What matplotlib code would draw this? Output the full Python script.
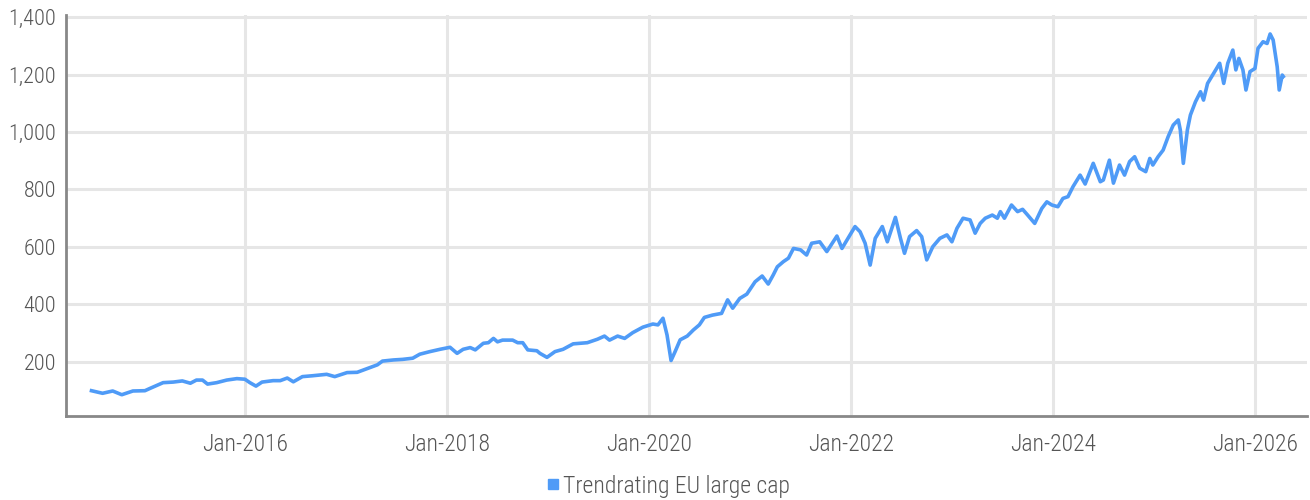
import numpy as np
import pandas as pd
import matplotlib
matplotlib.use("Agg")
import matplotlib.pyplot as plt
import matplotlib.dates as mdates
from matplotlib.ticker import FuncFormatter
from matplotlib.lines import Line2D

# values (decimal year, index level)
years = [
    2014.48, 2014.59, 2014.69, 2014.78, 2014.89, 2015.01, 2015.06, 2015.19, 2015.29, 2015.38,
    2015.46, 2015.52, 2015.58, 2015.63, 2015.72, 2015.82, 2015.92, 2016.00, 2016.05, 2016.11,
    2016.17, 2016.28, 2016.35, 2016.42, 2016.48, 2016.57, 2016.67, 2016.81, 2016.89, 2017.01,
    2017.11, 2017.21, 2017.31, 2017.36, 2017.47, 2017.56, 2017.66, 2017.73, 2017.83, 2017.93,
    2018.03, 2018.10, 2018.16, 2018.23, 2018.28, 2018.36, 2018.41, 2018.46, 2018.50, 2018.55,
    2018.65, 2018.70, 2018.75, 2018.80, 2018.89, 2018.92, 2018.99, 2019.07, 2019.15, 2019.25,
    2019.39, 2019.49, 2019.56, 2019.61, 2019.69, 2019.76, 2019.84, 2019.94, 2020.04, 2020.09,
    2020.14, 2020.18, 2020.22, 2020.26, 2020.31, 2020.38, 2020.44, 2020.50, 2020.55, 2020.63,
    2020.72, 2020.78, 2020.83, 2020.90, 2020.97, 2021.05, 2021.12, 2021.18, 2021.23, 2021.27,
    2021.33, 2021.38, 2021.43, 2021.50, 2021.56, 2021.61, 2021.69, 2021.76, 2021.86, 2021.91,
    2021.97, 2022.04, 2022.09, 2022.14, 2022.19, 2022.24, 2022.31, 2022.36, 2022.44, 2022.49,
    2022.53, 2022.58, 2022.65, 2022.70, 2022.75, 2022.81, 2022.88, 2022.95, 2023.00, 2023.05,
    2023.11, 2023.18, 2023.23, 2023.28, 2023.33, 2023.40, 2023.45, 2023.48, 2023.52, 2023.59,
    2023.65, 2023.70, 2023.75, 2023.82, 2023.89, 2023.94, 2023.99, 2024.05, 2024.10, 2024.15,
    2024.20, 2024.27, 2024.32, 2024.40, 2024.47, 2024.50, 2024.56, 2024.60, 2024.66, 2024.71,
    2024.76, 2024.81, 2024.86, 2024.92, 2024.96, 2024.99, 2025.04, 2025.09, 2025.14, 2025.19,
    2025.24, 2025.26, 2025.29, 2025.33, 2025.36, 2025.41, 2025.46, 2025.49, 2025.53, 2025.58,
    2025.62, 2025.65, 2025.69, 2025.73, 2025.78, 2025.81, 2025.84, 2025.88, 2025.91, 2025.95,
    2026.00, 2026.03, 2026.08, 2026.12, 2026.15, 2026.18, 2026.22, 2026.24, 2026.27, 2026.28,
]
values = [
    100, 91, 99, 86, 99, 100, 108, 128, 130, 134,
    126, 137, 137, 123, 128, 137, 142, 140, 128, 116,
    130, 135, 135, 144, 131, 149, 152, 157, 149, 163,
    164, 177, 190, 203, 207, 209, 213, 227, 236, 244,
    251, 230, 244, 250, 242, 265, 267, 282, 270, 276,
    276, 267, 267, 242, 239, 230, 216, 236, 244, 263,
    267, 279, 290, 276, 290, 282, 302, 321, 332, 329,
    352, 294, 205, 236, 277, 290, 311, 329, 355, 363,
    369, 416, 387, 421, 436, 479, 499, 471, 503, 531,
    549, 561, 595, 590, 572, 613, 618, 584, 638, 595,
    630, 671, 653, 613, 537, 630, 671, 618, 703, 630,
    578, 636, 657, 636, 555, 601, 630, 642, 618, 665,
    700, 694, 648, 682, 700, 711, 700, 723, 700, 746,
    723, 731, 711, 682, 734, 757, 746, 740, 769, 775,
    810, 850, 819, 891, 827, 833, 902, 822, 885, 850,
    897, 914, 874, 862, 908, 885, 914, 937, 984, 1024,
    1042, 1007, 891, 1007, 1059, 1105, 1140, 1111, 1169, 1198,
    1221, 1239, 1169, 1239, 1285, 1216, 1256, 1216, 1146, 1210,
    1221, 1291, 1314, 1308, 1341, 1320, 1227, 1146, 1198, 1193,
]
series_name = "Trendrating EU large cap"
tick_years = [2016, 2018, 2020, 2022, 2024, 2026]
y_ticks = [200, 400, 600, 800, 1000, 1200, 1400]


def to_date(y):
    yi = int(y)
    return pd.Timestamp(f"{yi}-01-01") + pd.Timedelta(days=(y - yi) * 365.25)


dates = [to_date(y) for y in years]

plt.rcParams['font.family'] = ['Roboto Condensed', 'Roboto', 'DejaVu Sans']
plt.rcParams['font.weight'] = 'light'

blue = '#4F9BF7'
grid_c = '#e6e6e6'
text_c = '#555555'

fig = plt.figure(figsize=(13.1, 5.0), dpi=100)
ax = fig.add_axes([0.0504, 0.168, 0.9473, 0.802])

ax.plot(dates, values, color=blue, lw=2.6, solid_joinstyle='round', zorder=3)

ax.set_xlim(to_date(2014.228), to_date(2026.515))
ax.set_ylim(12, 1407)

ax.set_yticks(y_ticks)
ax.yaxis.set_major_formatter(FuncFormatter(lambda v, p: f"{int(v):,}"))
ax.set_xticks([pd.Timestamp(f"{y}-01-01") for y in tick_years])
ax.xaxis.set_major_formatter(mdates.DateFormatter("%b-%Y"))

ax.grid(True, color=grid_c, lw=2.2, zorder=0)
ax.tick_params(axis='both', length=0, colors=text_c)
ax.tick_params(axis='y', pad=7, labelsize=16)
ax.tick_params(axis='x', pad=12, labelsize=17)
for lbl in ax.get_xticklabels() + ax.get_yticklabels():
    lbl.set_fontweight('light')

for s in ['top', 'right']:
    ax.spines[s].set_visible(False)
for s in ['left', 'bottom']:
    ax.spines[s].set_color('#888888')
    ax.spines[s].set_linewidth(2)

handle = Line2D([], [], marker='s', color=blue, linestyle='none', markersize=7.5)
leg = fig.legend([handle], [series_name], loc='center', bbox_to_anchor=(0.509, 0.028),
                 frameon=False, fontsize=17, labelcolor=text_c, handletextpad=0.05,
                 handlelength=0.8)
for t in leg.get_texts():
    t.set_fontweight('light')

fig.savefig("out.png", dpi=100)
